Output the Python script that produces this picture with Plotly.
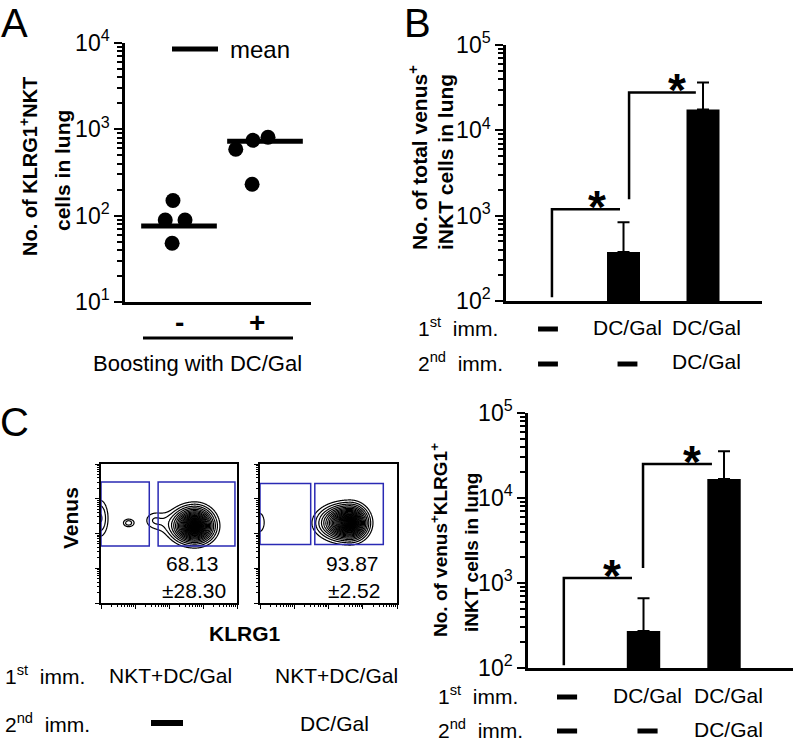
import numpy as np
import plotly.graph_objects as go

W, H = 796, 741
FONT = "Liberation Sans, Arial, sans-serif"


def px(x):
    return x / W


def py(y):
    return 1 - y / H


# ---------------- DATA ----------------
# Panel A: KLRG1+ NKT cells in lung (individual mice) and means
a_labels = ["-", "+"]
a_minus_vals = [150, 89, 89, 48]
a_plus_vals = [587, 746, 809, 231]
a_means = [76, 726]
a_minus_jitter = [-0.07, -0.16, 0.07, -0.08]
a_plus_jitter = [-0.34, -0.14, 0.035, -0.15]

# Panel B: total venus+ iNKT cells in lung (mean, SD)
b_vals = [None, 374, 17600]
b_sd = [0, 465, 18800]
b_row1 = ["-", "DC/Gal", "DC/Gal"]
b_row2 = ["-", "-", "DC/Gal"]
b_brackets = [(0.10, 111, 0.956, 1190), (1.07, 1560, 1.91, 27800)]
b_stars = [0.67, 1.67]

# Panel C (right): venus+KLRG1+ iNKT cells in lung (mean, SD)
c_vals = [None, 272, 16700]
c_sd = [0, 391, 18900]
c_row1 = ["-", "DC/Gal", "DC/Gal"]
c_row2 = ["-", "-", "DC/Gal"]
c_brackets = [(0.01, 108, 0.857, 1146), (0.994, 1500, 1.85, 25100)]
c_stars = [0.61, 1.60]

# Panel C (left): flow plots, KLRG1+ gate percentages
flow_pct = ["68.13", "93.87"]
flow_pm = ["\u00b128.30", "\u00b12.52"]
flow_row1 = ["NKT+DC/Gal", "NKT+DC/Gal"]
flow_row2 = ["-", "DC/Gal"]
# density populations: (kind, u, v, su_left, su_right, sv_bottom, sv_top, weight)
flow1_pops = [("peak", 0.69, 0.554, 0.104, 0.087, 0.075, 0.082, 1.0),
              ("blob", 0.375, 0.597, 0.072, 0.072, 0.066, 0.066, 0.10),
              ("blob", 0.20, 0.576, 0.042, 0.042, 0.032, 0.032, 0.15),
              ("blob", -0.01, 0.61, 0.067, 0.067, 0.144, 0.144, 0.18)]
flow2_pops = [("peak", 0.657, 0.576, 0.131, 0.079, 0.075, 0.078, 1.0),
              ("blob", -0.01, 0.58, 0.06, 0.06, 0.107, 0.107, 0.14)]
# gates (u0, u1, v0, v1)
flow1_gates = [(0.0, 0.355, 0.41, 0.87), (0.42, 0.985, 0.41, 0.87)]
flow2_gates = [(0.0, 0.37, 0.42, 0.86), (0.40, 0.90, 0.42, 0.86)]

fig = go.Figure()

# ---------------- Panel A ----------------
fig.add_trace(go.Scatter(x=[0 + j for j in a_minus_jitter], y=a_minus_vals,
                         mode="markers", marker=dict(color="black", size=15),
                         xaxis="x", yaxis="y", hoverinfo="skip"))
fig.add_trace(go.Scatter(x=[1 + j for j in a_plus_jitter], y=a_plus_vals,
                         mode="markers", marker=dict(color="black", size=15),
                         xaxis="x", yaxis="y", hoverinfo="skip"))
for i, m in enumerate(a_means):
    fig.add_trace(go.Scatter(x=[i - 0.44, i + 0.44], y=[m, m], mode="lines",
                             line=dict(color="black", width=5),
                             xaxis="x", yaxis="y", hoverinfo="skip"))

# ---------------- Bar panels ----------------
def bar_panel(vals, sd, brackets, xa, ya):
    fig.add_trace(go.Bar(x=[0, 1, 2], y=vals, width=0.415, marker_color="black",
                         marker_line_width=0,
                         error_y=dict(type="data", array=sd, arrayminus=[0, 0, 0],
                                      symmetric=False, color="black",
                                      thickness=2, width=6),
                         xaxis=xa, yaxis=ya, hoverinfo="skip"))
    for (xl, yb, xe, yt) in brackets:
        fig.add_trace(go.Scatter(x=[xl, xl, xe], y=[yb, yt, yt], mode="lines",
                                 line=dict(color="black", width=2.5),
                                 xaxis=xa, yaxis=ya, hoverinfo="skip"))


bar_panel(b_vals, b_sd, b_brackets, "x2", "y2")
bar_panel(c_vals, c_sd, c_brackets, "x5", "y5")

# ---------------- Flow plots ----------------
gu = np.linspace(0, 1, 321)
gv = np.linspace(0, 1, 321)
UU, VV = np.meshgrid(gu, gv)


def density(pops):
    z = np.zeros_like(UU)
    for (kind, u, v, sul, sur, svb, svt, w) in pops:
        su = np.where(UU < u, sul, sur)
        sv = np.where(VV < v, svb, svt)
        q = ((UU - u) / su) ** 2 + ((VV - v) / sv) ** 2
        if kind == "peak":
            z += w * np.exp(-np.sqrt(q))
        else:
            z += w * np.exp(-q / 2)
    return z


for pops, xa, ya in [(flow1_pops, "x3", "y3"), (flow2_pops, "x4", "y4")]:
    fig.add_trace(go.Contour(x=gu, y=gv, z=density(pops), xaxis=xa, yaxis=ya,
                             autocontour=False,
                             contours=dict(coloring="lines", start=0.12, end=1.0, size=0.028),
                             line=dict(width=1.2, smoothing=1),
                             colorscale=[[0, "black"], [1, "black"]],
                             showscale=False, hoverinfo="skip"))

shapes = []
for gates, xr, yr in [(flow1_gates, "x3", "y3"), (flow2_gates, "x4", "y4")]:
    for (u0, u1, v0, v1) in gates:
        shapes.append(dict(type="rect", xref=xr, yref=yr, x0=u0, x1=u1, y0=v0, y1=v1,
                           line=dict(color="#2a2ab4", width=1.5)))

# ---------------- Axes ----------------
def log_minor(lo, hi):
    return [k * 10 ** d for d in range(lo, hi) for k in range(2, 10)]


def log_y(domain, lo, hi, anchor):
    return dict(domain=domain, type="log", range=[lo, hi], anchor=anchor, automargin=False,
                showline=True, linecolor="black", linewidth=2.5,
                ticks="outside", ticklen=8, tickwidth=2, tickcolor="black",
                tickmode="array", tickvals=[10 ** d for d in range(lo, hi + 1)],
                ticktext=["10<sup>%d</sup>" % d for d in range(lo, hi + 1)],
                tickfont=dict(size=23, color="black", family=FONT),
                minor=dict(ticks="outside", ticklen=5, tickwidth=1.5, tickcolor="black",
                           tickvals=log_minor(lo, hi)),
                showgrid=False, zeroline=False)


def plain_x(domain, rng, anchor):
    return dict(domain=domain, range=rng, anchor=anchor, showline=True, automargin=False,
                linecolor="black", linewidth=2.5, ticks="", showticklabels=False,
                showgrid=False, zeroline=False)


flow_major = [0, 0.25, 0.5, 0.75, 1.0]
flow_minor = [b + 0.25 * np.log10(k) for b in [0, 0.25, 0.5, 0.75] for k in range(2, 10)]


def flow_axis(domain, anchor):
    return dict(domain=domain, range=[0, 1], anchor=anchor, showline=True, mirror=True,
                automargin=False,
                linecolor="black", linewidth=1.5, ticks="outside", ticklen=4, tickwidth=1.2,
                tickcolor="black", tickvals=flow_major, showticklabels=False,
                minor=dict(ticks="outside", ticklen=2, tickwidth=1, tickcolor="black",
                           tickvals=flow_minor),
                showgrid=False, zeroline=False)


layout = dict(
    template="none",
    width=W, height=H, margin=dict(l=0, r=0, t=0, b=0, pad=0, autoexpand=False),
    paper_bgcolor="white", plot_bgcolor="white", showlegend=False,
    font=dict(family=FONT, color="black"),
    xaxis=plain_x([px(125), px(311)], [-0.628, 1.535], "y"),
    yaxis=log_y([py(302), py(43)], 1, 4, "x"),
    xaxis2=plain_x([px(506), px(762)], [-0.478, 2.742], "y2"),
    yaxis2=log_y([py(301), py(45)], 2, 5, "x2"),
    xaxis3=flow_axis([px(101), px(237)], "y3"),
    yaxis3=flow_axis([py(603), py(464)], "x3"),
    xaxis4=flow_axis([px(260), px(397)], "y4"),
    yaxis4=flow_axis([py(603), py(464)], "x4"),
    xaxis5=plain_x([px(528), px(793)], [-0.435, 2.857], "y5"),
    yaxis5=log_y([py(668), py(413)], 2, 5, "x5"),
)

ann = []


def text(t, x, y, size=21, bold=False, angle=0, xanchor="center", xref="paper", yref="paper"):
    if bold:
        t = "<b>" + t + "</b>"
    ann.append(dict(text=t, x=x, y=y, xref=xref, yref=yref, showarrow=False,
                    xanchor=xanchor, yanchor="middle", textangle=angle,
                    font=dict(size=size, family=FONT, color="black")))


def dash(xc, yc, half, xref="paper"):
    shapes.append(dict(type="line", xref=xref, yref="paper", x0=xc - half, x1=xc + half,
                       y0=yc, y1=yc, line=dict(color="black", width=5)))


# panel letters
text("A", px(15), py(23), size=40)
text("B", px(417), py(23), size=40)
text("C", px(14), py(422), size=40)

# Panel A texts
text("No. of KLRG1<sup>+</sup>NKT", px(28), py(167), size=20, bold=True, angle=-90)
text("cells in lung", px(62), py(171), bold=True, angle=-90)
text("mean", px(260), py(50), size=24)
shapes.append(dict(type="line", xref="paper", yref="paper", x0=px(172), x1=px(218),
                   y0=py(49), y1=py(49), line=dict(color="black", width=5)))
for i, lab in enumerate(a_labels):
    ann.append(dict(text="<b>" + lab + "</b>", x=i * 0.91, y=py(322), xref="x", yref="paper",
                    showarrow=False, xanchor="center", yanchor="middle",
                    font=dict(size=28, family=FONT, color="black")))
shapes.append(dict(type="line", xref="paper", yref="paper", x0=px(143), x1=px(293),
                   y0=py(338), y1=py(338), line=dict(color="black", width=3)))
text("Boosting with DC/Gal", px(197), py(363), size=22)

# Panel B texts
text("No. of total venus<sup>+</sup>", px(418), py(158), bold=True, angle=-90)
text("iNKT cells in lung", px(445), py(162), bold=True, angle=-90)


def rows(row1, row2, xa, x_left, y1, y2):
    text("1<sup>st</sup>\u00a0 imm.", px(x_left), py(y1), xanchor="left")
    text("2<sup>nd</sup>\u00a0 imm.", px(x_left), py(y2), xanchor="left")
    for r, yy in [(row1, y1), (row2, y2)]:
        for i, lab in enumerate(r):
            if lab == "-":
                dash(i + 0.05, py(yy + 2), 0.125, xref=xa)
            else:
                ann.append(dict(text=lab, x=i + 0.05, y=py(yy), xref=xa, yref="paper",
                                showarrow=False, xanchor="center", yanchor="middle",
                                font=dict(size=21, family=FONT, color="black")))


rows(b_row1, b_row2, "x2", 416, 327, 362)
rows(c_row1, c_row2, "x5", 436, 695, 729)


def stars(xs, brackets, xa, ya):
    for xs_, br in zip(xs, brackets):
        ann.append(dict(text="<b>*</b>", x=xs_, y=np.log10(br[3]), xref=xa, yref=ya,
                        showarrow=False, xanchor="center", yanchor="bottom", yshift=-26,
                        font=dict(size=46, family=FONT, color="black")))


stars(b_stars, b_brackets, "x2", "y2")
stars(c_stars, c_brackets, "x5", "y5")

# Panel C right title
text("No. of venus<sup>+</sup>KLRG1<sup>+</sup>", px(439), py(540), size=19, bold=True, angle=-90)
text("iNKT cells in lung", px(471), py(553), size=19, bold=True, angle=-90)

# Flow plot texts
text("Venus", px(70), py(518), bold=True, angle=-90)
text("KLRG1", px(245), py(633), bold=True)
for xc, p, pm in zip([192, 352], flow_pct, flow_pm):
    text(p, px(xc), py(563))
    text(pm, px(xc + 2), py(590))
text("1<sup>st</sup>\u00a0 imm.", px(3), py(675), xanchor="left")
text("2<sup>nd</sup>\u00a0 imm.", px(3), py(723), xanchor="left")
for xc, lab in zip([170, 336], flow_row1):
    text(lab, px(xc), py(675))
for xc, lab in zip([167, 334], flow_row2):
    if lab == "-":
        shapes.append(dict(type="line", xref="paper", yref="paper", x0=px(xc - 16), x1=px(xc + 16),
                           y0=py(723), y1=py(723), line=dict(color="black", width=6)))
    else:
        text(lab, px(xc), py(723))

layout["annotations"] = ann
layout["shapes"] = shapes
fig.update_layout(**layout)
fig.write_html("out.html", config={"displayModeBar": False},
               post_script="document.body.style.margin='0';document.body.style.padding='0';")
